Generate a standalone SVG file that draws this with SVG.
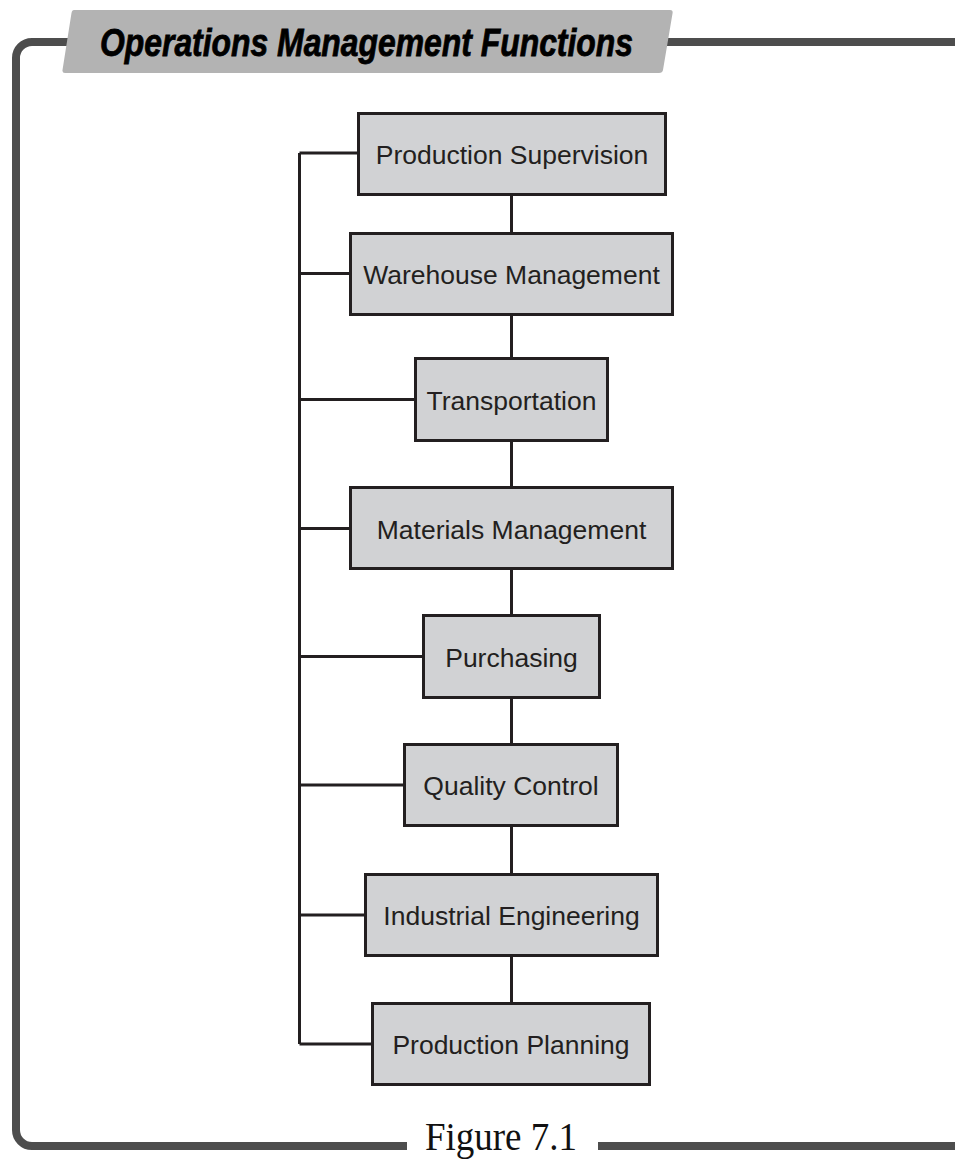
<svg xmlns="http://www.w3.org/2000/svg" width="955" height="1160" viewBox="0 0 955 1160">
<style>
.frame{fill:none;stroke:#4d4d4d;stroke-width:8;stroke-linecap:butt}
.box{fill:#d1d2d4;stroke:#231f20;stroke-width:3}
.lbl{font-family:"Liberation Sans",Arial,sans-serif;font-size:26.5px;fill:#231f20;text-anchor:middle}
.conn{fill:none;stroke:#231f20;stroke-width:3}
</style>
<rect width="955" height="1160" fill="#ffffff"/>
<g id="frame">
<path class="frame" d="M68,42 H32 A16,16 0 0 0 16,58 V1130 A16,16 0 0 0 32,1146 H407"/>
<path class="frame" d="M667,42 H955"/>
<path class="frame" d="M598,1146 H955"/>
</g>
<g id="title">
<path d="M74,10 H670 Q673,10 672.6,13 L663,70 Q662.5,73 659,73 H65 Q62,73 62.5,70 L71.5,13 Q72,10 74,10 Z" fill="#b3b3b3"/>
<text x="100" y="56" font-family="'Liberation Sans',Arial,sans-serif" font-size="38" font-weight="bold" font-style="italic" fill="#000" stroke="#000" stroke-width="0.8" textLength="533" lengthAdjust="spacingAndGlyphs">Operations Management Functions</text>
</g>
<g id="caption">
<text x="425" y="1150" font-family="'Liberation Serif','Times New Roman',serif" font-size="40" fill="#111" textLength="152" lengthAdjust="spacingAndGlyphs">Figure 7.1</text>
</g>
<g id="connectors">
<path class="conn" d="M299.5,153 V1044"/>
<path class="conn" d="M299.5,153 H358.5 M299.5,273.5 H350.5 M299.5,399.5 H415.5 M299.5,528.5 H350.5 M299.5,656.5 H423.5 M299.5,785 H404.5 M299.5,915 H365.5 M299.5,1044 H372.5"/>
<path class="conn" d="M511.5,194.5 V233.5 M511.5,314.5 V358.5 M511.5,440.5 V487.5 M511.5,568.5 V615.5 M511.5,697.5 V744.5 M511.5,825.5 V874.5 M511.5,955.5 V1003.5"/>
</g>
<g id="n1"><rect class="box" x="358.5" y="113.5" width="307" height="81"/><text class="lbl" x="512" y="163.5">Production Supervision</text></g>
<g id="n2"><rect class="box" x="350.5" y="233.5" width="322" height="81"/><text class="lbl" x="511.5" y="283.5">Warehouse Management</text></g>
<g id="n3"><rect class="box" x="415.5" y="358.5" width="192" height="82"/><text class="lbl" x="511.5" y="409.5">Transportation</text></g>
<g id="n4"><rect class="box" x="350.5" y="487.5" width="322" height="81"/><text class="lbl" x="511.5" y="538.5">Materials Management</text></g>
<g id="n5"><rect class="box" x="423.5" y="615.5" width="176" height="82"/><text class="lbl" x="511.5" y="666.5">Purchasing</text></g>
<g id="n6"><rect class="box" x="404.5" y="744.5" width="213" height="81"/><text class="lbl" x="511" y="795">Quality Control</text></g>
<g id="n7"><rect class="box" x="365.5" y="874.5" width="292" height="81"/><text class="lbl" x="511.5" y="925">Industrial Engineering</text></g>
<g id="n8"><rect class="box" x="372.5" y="1003.5" width="277" height="81"/><text class="lbl" x="511" y="1054">Production Planning</text></g>
</svg>
